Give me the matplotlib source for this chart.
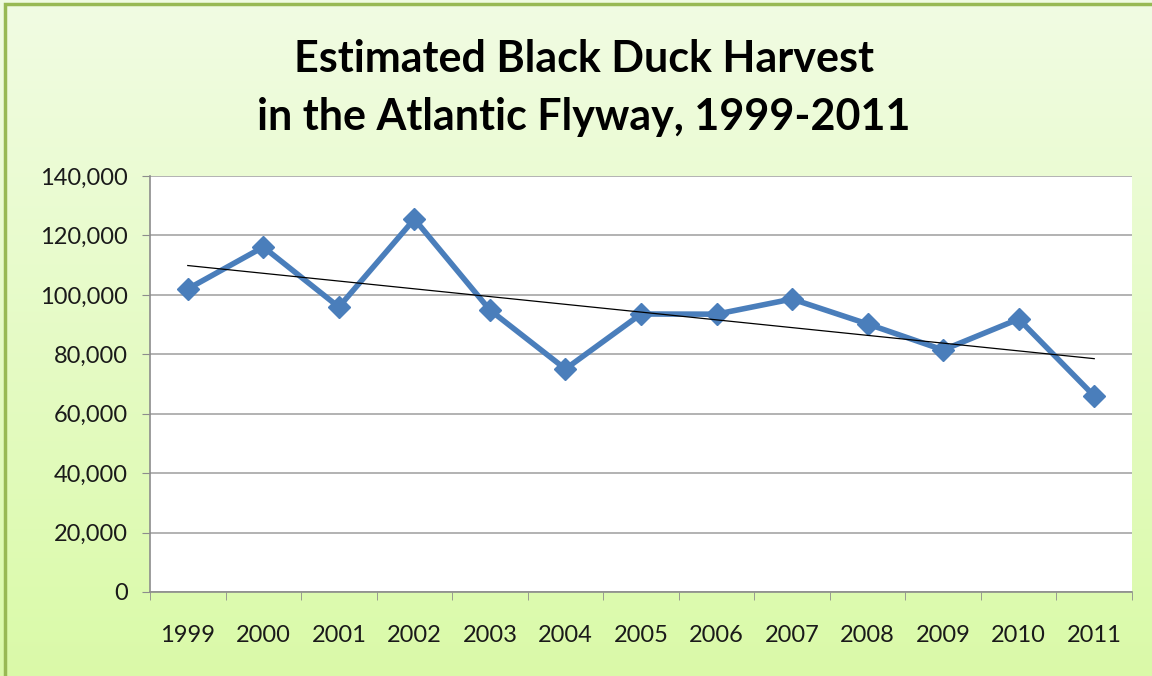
import numpy as np
import matplotlib.pyplot as plt
from matplotlib.patches import Rectangle
from matplotlib.ticker import FuncFormatter, FixedLocator

years = ['1999', '2000', '2001', '2002', '2003', '2004', '2005',
         '2006', '2007', '2008', '2009', '2010', '2011']
harvest = [102000, 116100, 95900, 125500, 94900, 75050, 93550,
           93500, 98600, 90200, 81440, 91870, 65960]
yticks = [0, 20000, 40000, 60000, 80000, 100000, 120000, 140000]

font = 'Lato'

fig = plt.figure(figsize=(11.52, 6.76), dpi=100)

# background gradient over the whole chart area
bg = fig.add_axes([0, 0, 1, 1], zorder=0)
grad = np.linspace(0, 1, 256).reshape(-1, 1)
top = np.array([0.945, 0.988, 0.890])
bottom = np.array([0.855, 0.980, 0.660])
img = top + (bottom - top) * grad[:, :, None]
bg.imshow(np.repeat(img, 2, axis=1), aspect='auto', extent=[0, 1, 0, 1], origin='upper')
bg.add_patch(Rectangle((5 / 1152, -0.1), 1.2, 1.1 - 4 / 676, transform=bg.transAxes,
                       fill=False, edgecolor='#98B954', lw=2.5))
bg.set_xlim(0, 1)
bg.set_ylim(0, 1)
bg.axis('off')

fig.text(0.507, 0.912, 'Estimated Black Duck Harvest', ha='center', va='center',
         fontsize=31, fontweight='bold', family=font)
fig.text(0.507, 0.827, 'in the Atlantic Flyway, 1999-2011', ha='center', va='center',
         fontsize=31, fontweight='bold', family=font)

ax = fig.add_axes([150 / 1152, 84 / 676, 982 / 1152, 416 / 676], zorder=1)
ax.set_facecolor('white')
x = np.arange(len(years))

ax.plot(x, harvest, color='#4A7EBB', lw=4, marker='D', markersize=11,
        solid_joinstyle='miter', zorder=3)

# linear trend line
k, b = np.polyfit(x, harvest, 1)
ax.plot(x, k * x + b, color='black', lw=0.9, zorder=4)

ax.set_xlim(-0.5, len(years) - 0.5)
ax.set_ylim(0, 140000)
ax.yaxis.set_major_locator(FixedLocator(yticks))
ax.yaxis.set_major_formatter(FuncFormatter(lambda v, p: '{:,.0f}'.format(v)))
ax.grid(axis='y', color='#A6A6A6', lw=1.2)
ax.set_axisbelow(True)

ax.set_xticks(x)
ax.set_xticklabels(years)
ax.set_xticks(np.arange(-0.5, len(years)), minor=True)
ax.tick_params(axis='x', which='major', length=0, pad=24)
ax.tick_params(axis='x', which='minor', length=6, color='#8C8C8C', direction='out')
ax.tick_params(axis='y', length=6, color='#8C8C8C', direction='out', pad=10)
for lab in ax.get_xticklabels() + ax.get_yticklabels():
    lab.set_family(font)
    lab.set_fontsize(17)
    lab.set_color('#1A1A1A')

for s in ['top', 'right']:
    ax.spines[s].set_visible(False)
for s in ['left', 'bottom']:
    ax.spines[s].set_color('#8C8C8C')
    ax.spines[s].set_linewidth(1.2)

fig.savefig('out.png', dpi=100)
